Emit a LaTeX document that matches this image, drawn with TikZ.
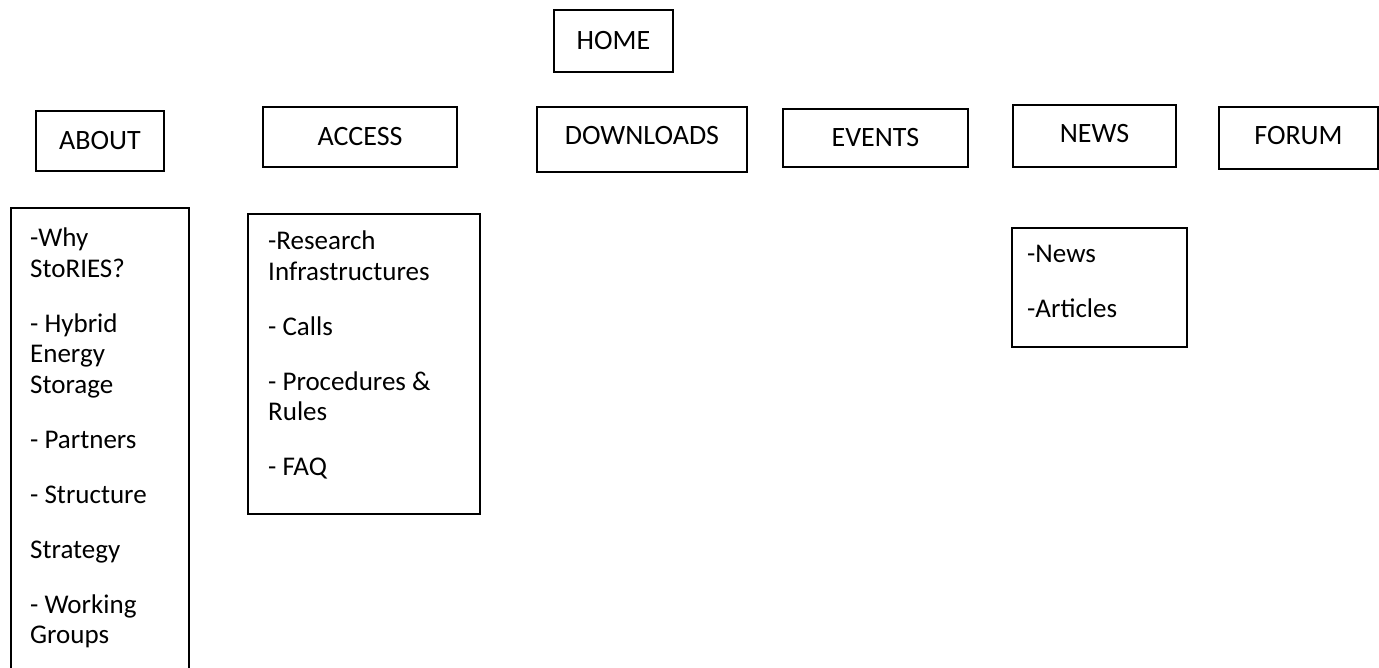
\documentclass[tikz,border=0pt]{standalone}
\usepackage{fontspec}
\setmainfont{Carlito}
\begin{document}
\begin{tikzpicture}[x=1pt,y=-1pt,
  box/.style={draw=black, line width=1.8pt, inner sep=0pt},
  hdr/.style={box, font=\fontsize{28}{30}\selectfont, text height=18pt, text depth=0pt},
  listbox/.style={box, anchor=north west},
  listtext/.style={anchor=base west, inner sep=0pt, font=\fontsize{27}{30.5}\selectfont}]
\useasboundingbox (0,0) rectangle (1379,668);
\clip (0,0) rectangle (1379,668);

% top level
\node[hdr, minimum width=119pt, minimum height=62pt] (home) at (613.5,41) {HOME};

% menu headers
\node[hdr, minimum width=128pt, minimum height=60pt] (about) at (100,141) {ABOUT};
\node[hdr, minimum width=194pt, minimum height=60pt] (access) at (360,137) {ACCESS};
\node[hdr, minimum width=210pt, minimum height=65pt, text depth=7pt] (downloads) at (642,139.5) {DOWNLOADS};
\node[hdr, minimum width=185pt, minimum height=58pt] (events) at (875.5,138) {EVENTS};
\node[hdr, minimum width=163pt, minimum height=62pt, text depth=4pt] (news) at (1094.5,136) {NEWS};
\node[hdr, minimum width=159pt, minimum height=62pt, text depth=4pt] (forum) at (1298.5,138) {FORUM};

% sub-menu boxes
\node[listbox, minimum width=178pt, minimum height=500pt] (aboutlist) at (10,207) {};
\node[listbox, minimum width=232pt, minimum height=300pt] (accesslist) at (247,213) {};
\node[listbox, minimum width=175pt, minimum height=119pt] (newslist) at (1011,227) {};

% sub-menu texts
\node[listtext] (abouttext) at (30,247) {\parbox[t]{160pt}{\raggedright
-Why\\ StoRIES?\\[24.5pt]
- Hybrid\\ Energy\\ Storage\\[24.5pt]
- Partners\\[24.5pt]
- Structure\\[24.5pt]
Strategy\\[24.5pt]
- Working\\ Groups}};

\node[listtext] (accesstext) at (268,250) {\parbox[t]{210pt}{\raggedright
-Research\\ Infrastructures\\[24.5pt]
- Calls\\[24.5pt]
- Procedures \&\\ Rules\\[24.5pt]
- FAQ}};

\node[listtext] (newstext) at (1027,263) {\parbox[t]{150pt}{\raggedright
-News\\[24.5pt]
-Articles}};
\end{tikzpicture}
\end{document}
